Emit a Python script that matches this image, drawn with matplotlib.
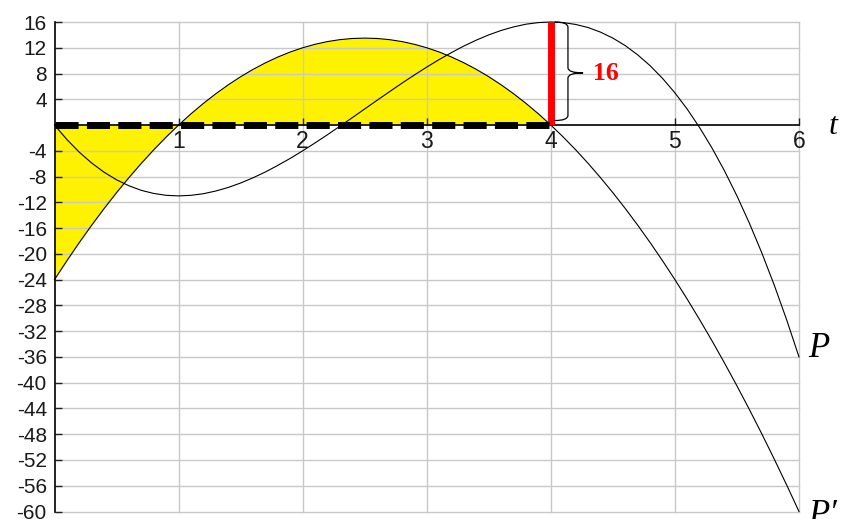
import matplotlib
matplotlib.use("Agg")
import matplotlib.pyplot as plt
from matplotlib.path import Path
from matplotlib.patches import PathPatch

# ---- data ----
t = [0.0, 0.1, 0.2, 0.3, 0.4, 0.5, 0.6, 0.7, 0.8, 0.9,
     1.0, 1.1, 1.2, 1.3, 1.4, 1.5, 1.6, 1.7, 1.8, 1.9,
     2.0, 2.1, 2.2, 2.3, 2.4, 2.5, 2.6, 2.7, 2.8, 2.9,
     3.0, 3.1, 3.2, 3.3, 3.4, 3.5, 3.6, 3.7, 3.8, 3.9,
     4.0, 4.1, 4.2, 4.3, 4.4, 4.5, 4.6, 4.7, 4.8, 4.9,
     5.0, 5.1, 5.2, 5.3, 5.4, 5.5, 5.6, 5.7, 5.8, 5.9, 6.0]
P = [0.0, -2.25, -4.22, -5.9, -7.33, -8.5, -9.43, -10.14, -10.62, -10.91,
     -11.0, -10.91, -10.66, -10.24, -9.69, -9.0, -8.19, -7.28, -6.26, -5.17,
     -4.0, -2.77, -1.5, -0.18, 1.15, 2.5, 3.85, 5.18, 6.5, 7.77,
     9.0, 10.17, 11.26, 12.28, 13.19, 14.0, 14.69, 15.24, 15.66, 15.91,
     16.0, 15.91, 15.62, 15.14, 14.43, 13.5, 12.33, 10.9, 9.22, 7.25,
     5.0, 2.45, -0.42, -3.6, -7.13, -11.0, -15.23, -19.84, -24.82, -30.21, -36.0]
dP = [-24.0, -21.06, -18.24, -15.54, -12.96, -10.5, -8.16, -5.94, -3.84, -1.86,
      0.0, 1.74, 3.36, 4.86, 6.24, 7.5, 8.64, 9.66, 10.56, 11.34,
      12.0, 12.54, 12.96, 13.26, 13.44, 13.5, 13.44, 13.26, 12.96, 12.54,
      12.0, 11.34, 10.56, 9.66, 8.64, 7.5, 6.24, 4.86, 3.36, 1.74,
      0.0, -1.86, -3.84, -5.94, -8.16, -10.5, -12.96, -15.54, -18.24, -21.06,
      -24.0, -27.06, -30.24, -33.54, -36.96, -40.5, -44.16, -47.94, -51.84, -55.86, -60.0]
t_fill_end = 4.0
t_mark = 4.0
mark_value = 16
mark_label = "16"
x_ticks = [1, 2, 3, 4, 5, 6]
y_ticks = [16, 12, 8, 4, -4, -8, -12, -16, -20, -24, -28, -32, -36, -40, -44,
           -48, -52, -56, -60]

fig = plt.figure(figsize=(8.49, 5.19), dpi=100)
ax = fig.add_axes([54.5 / 849, 1 - 511.5 / 519, (799 - 54.5) / 849, (511.5 - 22) / 519])
ax.set_xlim(0, 6)
ax.set_ylim(-60, 16)

# yellow area between P' and zero on [0, 4]
tf = [v for v in t if v <= t_fill_end]
dPf = dP[:len(tf)]
ax.fill_between(tf, dPf, 0, color="#FFF200", lw=0, zorder=1)

# curves
ax.plot(t, P, color="black", lw=0.8, zorder=2, clip_on=False)
ax.plot(t, dP, color="black", lw=0.8, zorder=2, clip_on=False)

# red segment and dashed line
ax.plot([t_mark, t_mark], [0, mark_value], color="#FF0000", lw=5.0,
        solid_capstyle="butt", zorder=2.8)
ax.plot([0, t_fill_end + 0.05], [0, 0], color="black", lw=5.0,
        dashes=(3.33, 1.19), dash_capstyle="butt", zorder=3)

# brace
x0 = t_mark + 0.03
x1 = t_mark + 0.138
x2 = t_mark + 0.26
ytop = mark_value
ybot = 0.7
ymid = 8.1
r = 0.8
verts = [(x0, ytop), (x1, ytop), (x1, ytop - r),
         (x1, ymid + r),
         (x1, ymid), (x2, ymid),
         (x1, ymid), (x1, ymid - r),
         (x1, ybot + r),
         (x1, ybot), (x0, ybot)]
codes = [Path.MOVETO, Path.CURVE3, Path.CURVE3,
         Path.LINETO,
         Path.CURVE3, Path.CURVE3,
         Path.CURVE3, Path.CURVE3,
         Path.LINETO,
         Path.CURVE3, Path.CURVE3]
ax.add_patch(PathPatch(Path(verts, codes), fill=False, color="black", lw=0.9,
                       zorder=3, clip_on=False))
fig.text(593 / 849, 1 - 80 / 519, mark_label, color="#FF0000", fontsize=18.5,
         family="Liberation Serif", weight="bold", ha="left", va="baseline")

# axes styling
for s in ["top", "right"]:
    ax.spines[s].set_visible(False)
ax.spines["bottom"].set_position(("data", 0))
ax.spines["left"].set_linewidth(1.2)
ax.spines["bottom"].set_linewidth(1.2)
ax.spines["left"].set_zorder(4)

ax.set_xticks(x_ticks)
ax.set_yticks(y_ticks)
ax.set_xticklabels([str(v) for v in x_ticks])
ax.set_yticklabels([str(v) for v in y_ticks])
ax.tick_params(axis="both", direction="in", length=5, width=1.0, color="#222222",
               labelcolor="#1a1a1a")
ax.tick_params(axis="y", pad=5.5, labelsize=15)
ax.tick_params(axis="x", pad=3.5, labelsize=16.5)
for lab in ax.get_xticklabels() + ax.get_yticklabels():
    lab.set_family("Liberation Sans")

ax.set_axisbelow("line")
ax.grid(True, color="#c8c8c8", lw=1.0)
for gl in ax.get_xgridlines() + ax.get_ygridlines():
    gl.set_clip_on(False)

# curve / axis labels
serif_it = dict(family="Liberation Serif", style="italic", color="black")
fig.text(833 / 849, 1 - 126 / 519, "t", fontsize=23, ha="center", va="center", **serif_it)
fig.text(808 / 849, 1 - 357 / 519, "P", fontsize=25, ha="left", va="baseline", **serif_it)
fig.text(808 / 849, 1 - 524 / 519, "P\u2032", fontsize=25, ha="left", va="baseline", **serif_it)

fig.savefig("out.png", dpi=100)
